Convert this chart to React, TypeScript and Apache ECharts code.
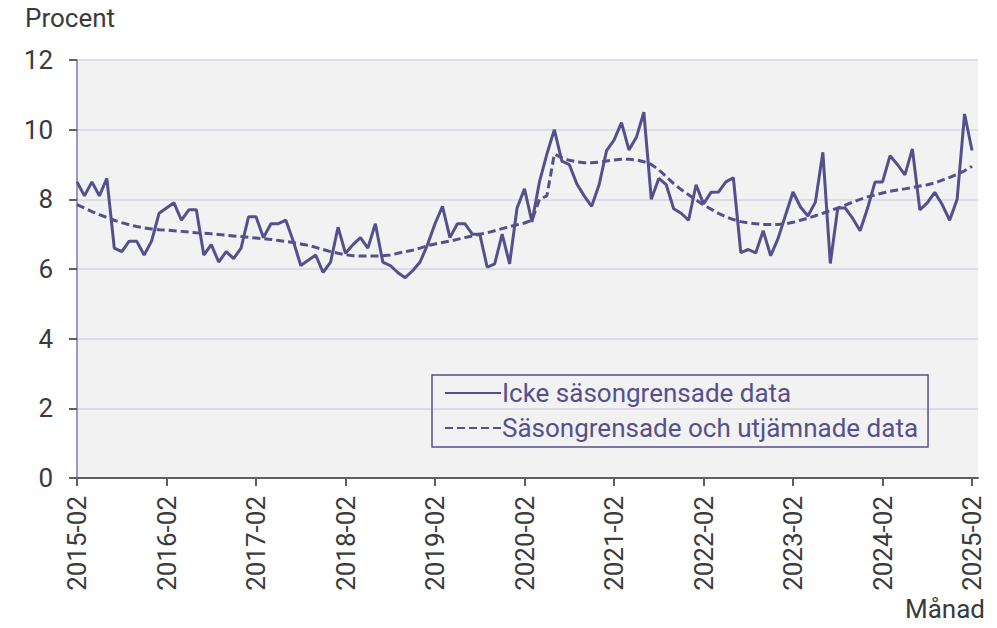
import React, { useEffect, useRef } from "react";
import * as echarts from "echarts";

// Month labels 2015-02 .. 2025-02 (category labels for the month index axis)
const months: string[] = [];
for (let y = 2015; y <= 2025; y++) {
  for (let m = 1; m <= 12; m++) {
    if (y === 2015 && m < 2) continue;
    if (y === 2025 && m > 2) continue;
    months.push(`${y}-${String(m).padStart(2, "0")}`);
  }
}

const xTickIndexes = [0, 12, 24, 36, 48, 60, 72, 84, 96, 108, 120];
const yTicks = [0, 2, 4, 6, 8, 10, 12];

const seriesNames = ["Icke säsongrensade data", "Säsongrensade och utjämnade data"];

// Icke säsongrensade data (monthly, 2015-02 .. 2025-02)
const rawData = [
  8.5, 8.1, 8.5, 8.1, 8.6, 6.6, 6.5, 6.8, 6.8, 6.4, 6.8, 7.6,
  7.75, 7.9, 7.4, 7.7, 7.7, 6.4, 6.7, 6.2, 6.5, 6.3, 6.6, 7.5,
  7.5, 6.9, 7.3, 7.3, 7.4, 6.8, 6.1, 6.25, 6.4, 5.9, 6.2, 7.2,
  6.45, 6.7, 6.9, 6.6, 7.3, 6.2, 6.1, 5.9, 5.75, 5.95, 6.2, 6.7,
  7.3, 7.8, 6.9, 7.3, 7.3, 7.0, 7.0, 6.05, 6.15, 7.0, 6.15, 7.75,
  8.3, 7.35, 8.5, 9.3, 10.0, 9.1, 9.0, 8.45, 8.1, 7.8, 8.42, 9.4,
  9.7, 10.2, 9.42, 9.78, 10.5, 8.0, 8.6, 8.42, 7.73, 7.6, 7.4, 8.42,
  7.87, 8.2, 8.21, 8.5, 8.62, 6.47, 6.56, 6.46, 7.1, 6.38, 6.88, 7.55,
  8.21, 7.78, 7.52, 7.92, 9.35, 6.16, 7.75, 7.75, 7.45, 7.1, 7.75, 8.5,
  8.5, 9.25, 9.0, 8.7, 9.45, 7.7, 7.9, 8.2, 7.85, 7.4, 8.0, 10.45,
  9.4,
];

// Säsongrensade och utjämnade data
const smoothData = [
  7.85, 7.75, 7.65, 7.56, 7.48, 7.4, 7.33, 7.27, 7.22, 7.18, 7.15, 7.13,
  7.12, 7.1, 7.08, 7.06, 7.04, 7.03, 7.01, 6.99, 6.97, 6.95, 6.93, 6.91,
  6.89, 6.87, 6.85, 6.82, 6.79, 6.76, 6.72, 6.68, 6.62, 6.56, 6.5, 6.45,
  6.41, 6.38, 6.37, 6.37, 6.37, 6.38, 6.4, 6.45, 6.5, 6.54, 6.6, 6.67,
  6.72, 6.76, 6.8, 6.85, 6.9, 6.95, 7.0, 7.04, 7.1, 7.16, 7.22, 7.27,
  7.32, 7.4, 8.0, 8.1, 9.3, 9.2, 9.12, 9.08, 9.05, 9.05, 9.07, 9.1,
  9.13, 9.15, 9.15, 9.13, 9.08, 9.0, 8.85, 8.65, 8.45, 8.28, 8.13, 7.98,
  7.84, 7.72, 7.6, 7.5, 7.42, 7.36, 7.32, 7.3, 7.28, 7.28, 7.28, 7.3,
  7.34, 7.4, 7.46, 7.53, 7.6, 7.68, 7.75, 7.83, 7.92, 8.0, 8.07, 8.13,
  8.18, 8.23, 8.27, 8.3, 8.34, 8.38, 8.42, 8.47, 8.55, 8.63, 8.72, 8.82,
  8.95,
];

const PURPLE = "#55508d";
const TEXT = "#3a3a3a";
const FONT = "Roboto";

export default function App() {
  const ref = useRef<HTMLDivElement>(null);

  useEffect(() => {
    if (!ref.current) return;
    const chart = echarts.init(ref.current, undefined, { renderer: "svg" });
    chart.setOption({
      animation: false,
      backgroundColor: "#ffffff",
      textStyle: { fontFamily: FONT },
      grid: {
        left: 77,
        top: 60,
        right: 19,
        bottom: 150,
        show: true,
        backgroundColor: "#f2f2f2",
        borderWidth: 0,
      },
      graphic: [
        {
          type: "text",
          left: 25,
          top: 5,
          style: { text: "Procent", fontSize: 26, fill: TEXT, fontFamily: FONT },
        },
        {
          type: "text",
          right: 12,
          top: 596,
          style: { text: "Månad", fontSize: 26, lineHeight: 26, fill: TEXT, fontFamily: FONT },
        },
      ],
      legend: {
        orient: "vertical",
        left: 432,
        top: 375,
        padding: [3, 10, 4, 12],
        itemGap: 5,
        itemWidth: 56,
        itemHeight: 14,
        borderColor: PURPLE,
        borderWidth: 1.5,
        borderRadius: 0,
        backgroundColor: "transparent",
        itemStyle: { opacity: 0 },
        textStyle: { color: PURPLE, fontSize: 26, fontFamily: FONT, lineHeight: 30, padding: [0, 0, 0, -4] },
        data: seriesNames,
      },
      xAxis: {
        type: "value",
        min: 0,
        max: 120.8,
        interval: 12,
        axisLine: { show: true, lineStyle: { color: "#5f5f5f", width: 2 } },
        axisTick: {
          show: true,
          length: 8,
          lineStyle: { color: "#5f5f5f", width: 2 },
          customValues: xTickIndexes,
        },
        axisLabel: {
          rotate: 90,
          margin: 18,
          fontSize: 26,
          color: TEXT,
          fontFamily: FONT,
          customValues: xTickIndexes,
          formatter: (v: number) => months[Math.round(v)] ?? "",
        },
        splitLine: { show: false },
      },
      yAxis: {
        type: "value",
        min: 0,
        max: 12,
        interval: 2,
        axisLine: { show: true, lineStyle: { color: "#7b76aa", width: 1.5 } },
        axisTick: { show: true, length: 8, lineStyle: { color: "#5f5f5f", width: 2 } },
        axisLabel: {
          margin: 24,
          fontSize: 26,
          color: TEXT,
          fontFamily: FONT,
          customValues: yTicks,
        },
        splitLine: { show: true, lineStyle: { color: "#d6d3e3", width: 1.5 } },
      },
      series: [
        {
          name: seriesNames[0],
          type: "line",
          data: rawData.map((v, i) => [i, v]),
          symbol: "none",
          lineStyle: { color: PURPLE, width: 3 },
          itemStyle: { color: PURPLE },
          z: 3,
        },
        {
          name: seriesNames[1],
          type: "line",
          data: smoothData.map((v, i) => [i, v]),
          symbol: "none",
          lineStyle: { color: PURPLE, width: 3, type: [8, 4] },
          itemStyle: { color: PURPLE },
          z: 2,
        },
      ],
    });
    return () => chart.dispose();
  }, []);

  return <div ref={ref} style={{ width: 997, height: 628, position: "absolute", left: 0, top: 0 }} />;
}
